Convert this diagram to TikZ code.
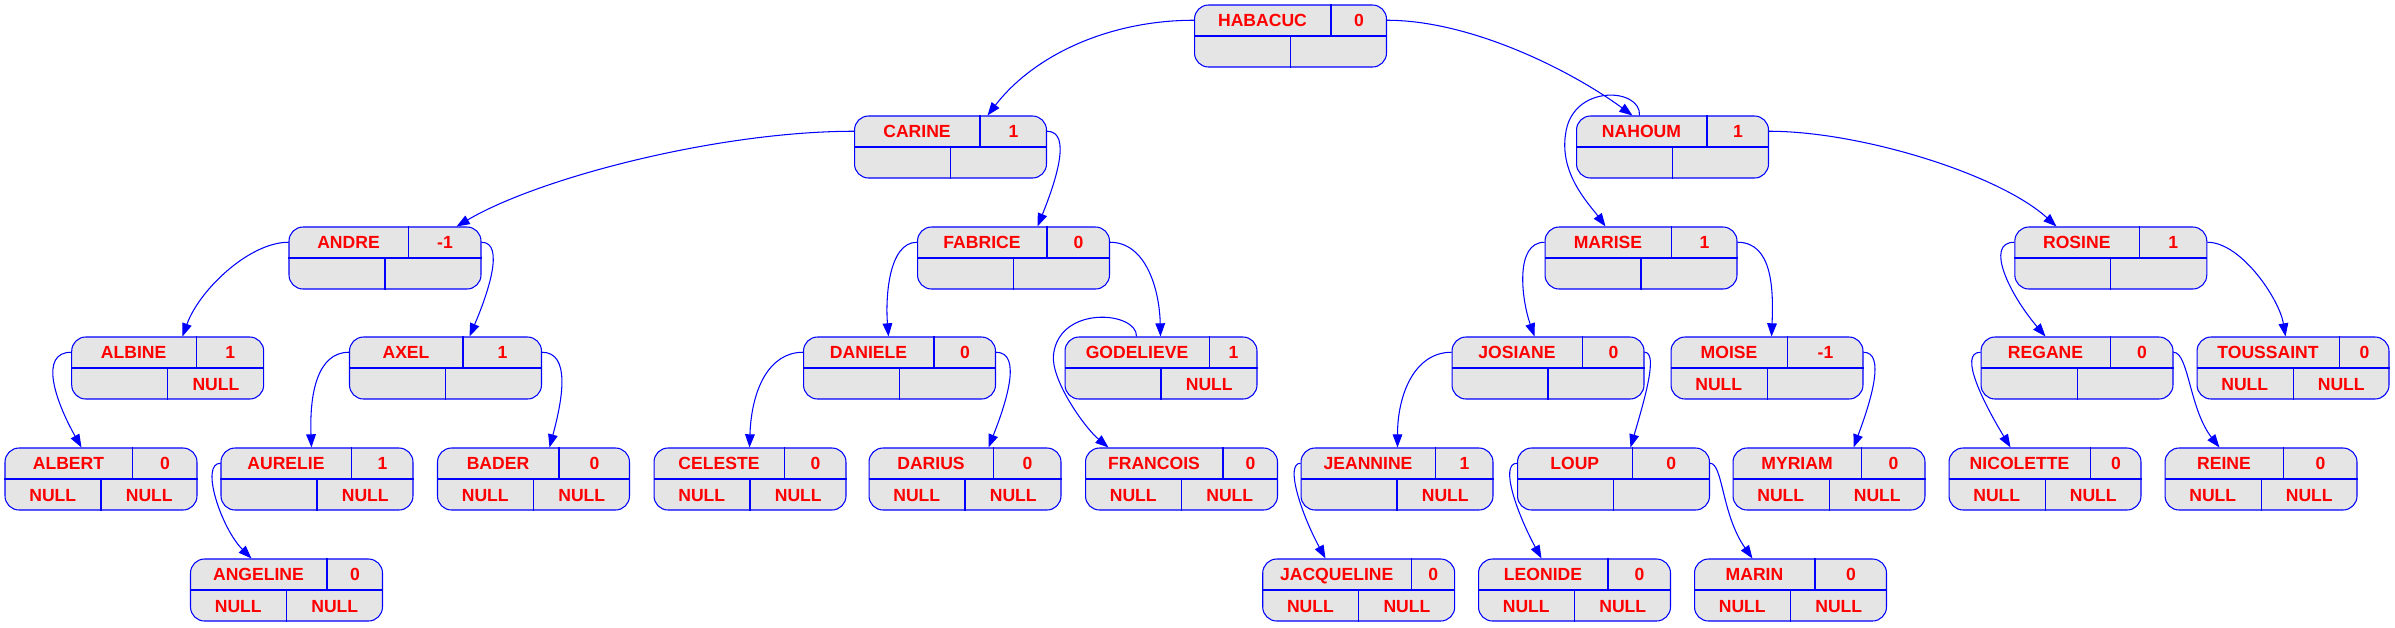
\documentclass[tikz,border=0pt]{standalone}
\usepackage{fontspec}
\setmainfont{Liberation Sans}
\usepackage{tikz}
\usetikzlibrary{calc,arrows.meta}

\definecolor{recgray}{HTML}{E5E5E5}

% one record: name, x, y, key, balance, left, right, width of key field
\newcommand{\avlrec}[8]{%
  \node[avlrec] (#1) at (#2,#3) {};
  \draw[divline] (#1.west) -- (#1.east);
  \coordinate (#1-k) at ($(#1.north west)+(#8,0)$);
  \draw[divline] (#1-k) -- (#1-k |- #1.center);
  \draw[divline] (#1.center) -- (#1.south);
  \node[txt] (#1-key) at ($(#1.north west)!0.5!(#1-k |- #1.center)$) {#4};
  \node[txt] (#1-bal) at ($(#1-k)!0.5!(#1.east)$) {#5};
  \node[txt] (#1-lt) at ($(#1.west)!0.5!(#1.south)$) {#6};
  \node[txt] (#1-rt) at ($(#1.south)!0.5!(#1.east)$) {#7};
  \coordinate (#1-w) at ($(#1.north west)!0.5!(#1.west)$);
  \coordinate (#1-e) at ($(#1.north east)!0.5!(#1.east)$);
}

% one link: start, first control offset, child, tip offset, second control offset
\newcommand{\avllink}[5]{%
  \draw[link] (#1) .. controls ($(#1)+(#2)$) and ($(#3.north west)+(#4,0)+(#5)$) .. ($(#3.north west)+(#4,0)$);
}

\begin{document}
\begin{tikzpicture}[x=0.02cm, y=-0.02cm,
    avlrec/.style={rectangle, rounded corners=0.28cm, draw=blue, fill=recgray, line width=0.6pt,
      minimum width=3.84cm, minimum height=1.24cm, inner sep=0pt},
    divline/.style={draw=blue, line width=0.6pt},
    txt/.style={text=red, font=\fontsize{10}{12}\selectfont\bfseries, inner sep=0pt,
      text height=7.2pt, text depth=0pt},
    link/.style={draw=blue, line width=0.6pt, -{Triangle[length=7.5pt,width=5.5pt]}}]
    \useasboundingbox (0,0) rectangle (2395,627);

    % level 0 and 1
    \avlrec{habacuc}{1290.5}{36}{HABACUC}{0}{}{}{137}
    \avlrec{carine}{950.5}{147}{CARINE}{1}{}{}{126}
    \avlrec{nahoum}{1672.5}{147}{NAHOUM}{1}{}{}{131}

    % level 2
    \avlrec{andre}{385}{258}{ANDRE}{-1}{}{}{120}
    \avlrec{fabrice}{1013.5}{258}{FABRICE}{0}{}{}{130}
    \avlrec{marise}{1641}{258}{MARISE}{1}{}{}{127}
    \avlrec{rosine}{2110.8}{258}{ROSINE}{1}{}{}{125}

    % level 3
    \avlrec{albine}{167.7}{368}{ALBINE}{1}{}{NULL}{125}
    \avlrec{axel}{445.5}{368}{AXEL}{1}{}{}{114}
    \avlrec{daniele}{899.5}{368}{DANIELE}{0}{}{}{131}
    \avlrec{godelieve}{1161}{368}{GODELIEVE}{1}{}{NULL}{145}
    \avlrec{josiane}{1548}{368}{JOSIANE}{0}{}{}{131}
    \avlrec{moise}{1767}{368}{MOISE}{-1}{NULL}{}{117}
    \avlrec{regane}{2077}{368}{REGANE}{0}{}{}{130}
    \avlrec{toussaint}{2293}{368}{TOUSSAINT}{0}{NULL}{NULL}{143}

    % level 4
    \avlrec{albert}{101}{479}{ALBERT}{0}{NULL}{NULL}{128}
    \avlrec{aurelie}{317}{479}{AURELIE}{1}{}{NULL}{131}
    \avlrec{bader}{533.5}{479}{BADER}{0}{NULL}{NULL}{122}
    \avlrec{celeste}{750}{479}{CELESTE}{0}{NULL}{NULL}{131}
    \avlrec{darius}{965}{479}{DARIUS}{0}{NULL}{NULL}{125}
    \avlrec{francois}{1181.5}{479}{FRANCOIS}{0}{NULL}{NULL}{138}
    \avlrec{jeannine}{1397}{479}{JEANNINE}{1}{}{NULL}{135}
    \avlrec{loup}{1613.5}{479}{LOUP}{0}{}{}{115.5}
    \avlrec{myriam}{1829}{479}{MYRIAM}{0}{NULL}{NULL}{129}
    \avlrec{nicolette}{2045}{479}{NICOLETTE}{0}{NULL}{NULL}{142}
    \avlrec{reine}{2261}{479}{REINE}{0}{NULL}{NULL}{119}

    % level 5
    \avlrec{angeline}{286.5}{590}{ANGELINE}{0}{NULL}{NULL}{137}
    \avlrec{jacqueline}{1358.7}{590}{JACQUELINE}{0}{NULL}{NULL}{149}
    \avlrec{leonide}{1574.5}{590}{LEONIDE}{0}{NULL}{NULL}{130}
    \avlrec{marin}{1790.5}{590}{MARIN}{0}{NULL}{NULL}{121}

    % links
    \avllink{habacuc-w}{-84,0}{carine}{133.5}{47,-61}
    \avllink{habacuc-e}{83,0}{nahoum}{56.5}{-63,-46}
    \avllink{carine-w}{-135,0}{andre}{168}{83,-49}
    \avllink{carine-e}{26,0}{fabrice}{120.5}{17,-42}
    \draw[link] ($(nahoum.north west)+(63.5,0)$)
      .. controls ($(nahoum.north west)+(65.5,-28)$) and ($(nahoum.north west)+(-4.5,-32)$)
      .. ($(nahoum.north west)+(-10.5,19)$)
      .. controls ($(nahoum.north west)+(-16.5,59)$) and ($(marise.north west)+(45,-22)$)
      .. ($(marise.north west)+(61,0)$);
    \avllink{nahoum-e}{92,0}{rosine}{42.2}{-57,-52}
    \avllink{andre-w}{-39,0}{albine}{111.3}{17,-47}
    \avllink{andre-e}{24,0}{axel}{120.5}{18,-42}
    \avllink{fabrice-w}{-29,0}{daniele}{85.5}{-3,-37}
    \avllink{fabrice-e}{36,0}{godelieve}{96}{-1,-47}
    \avllink{marise-w}{-30,0}{josiane}{83}{-13,-37}
    \avllink{marise-e}{35,0}{moise}{101}{2,-47}
    \avllink{rosine-w}{-30,0}{regane}{65}{-36,-42}
    \avllink{rosine-e}{34,0}{toussaint}{89}{-6,-37}
    \avllink{albine-w}{-32,0}{albert}{77}{-27,-48}
    \avllink{axel-w}{-32,0}{aurelie}{91}{-2,-53}
    \avllink{axel-e}{29,0}{bader}{112.5}{13,-48}
    \avllink{daniele-w}{-34,0}{celeste}{96}{2,-58}
    \avllink{daniele-e}{27,0}{darius}{120}{17,-43}
    \draw[link] ($(godelieve.north west)+(72,0)$)
      .. controls ($(godelieve.north west)+(73,-25)$) and ($(godelieve.north west)+(-5,-32)$)
      .. ($(godelieve.north west)+(-11,18)$)
      .. controls ($(godelieve.north west)+(-14,43)$) and ($(francois.north west)+(-0.5,-20)$)
      .. ($(francois.north west)+(23.5,0)$);
    \avllink{josiane-w}{-37,0}{jeannine}{97}{0,-53}
    \avllink{josiane-e}{14,0}{loup}{113.5}{14,-48}
    \avllink{moise-e}{22,0}{myriam}{121}{18,-48}
    \avllink{regane-w}{-23,0}{nicolette}{62}{-26,-43}
    \avllink{regane-e}{15,0}{reine}{55}{-30,-38}
    \avllink{aurelie-w}{-21,0}{angeline}{61.5}{-30,-30}
    \avllink{jeannine-w}{-16,0}{jacqueline}{63.3}{-24,-44}
    \avllink{loup-w}{-18,0}{leonide}{63.5}{-24,-44}
    \avllink{loup-e}{13,0}{marin}{58.5}{-31,-44}
\end{tikzpicture}
\end{document}
